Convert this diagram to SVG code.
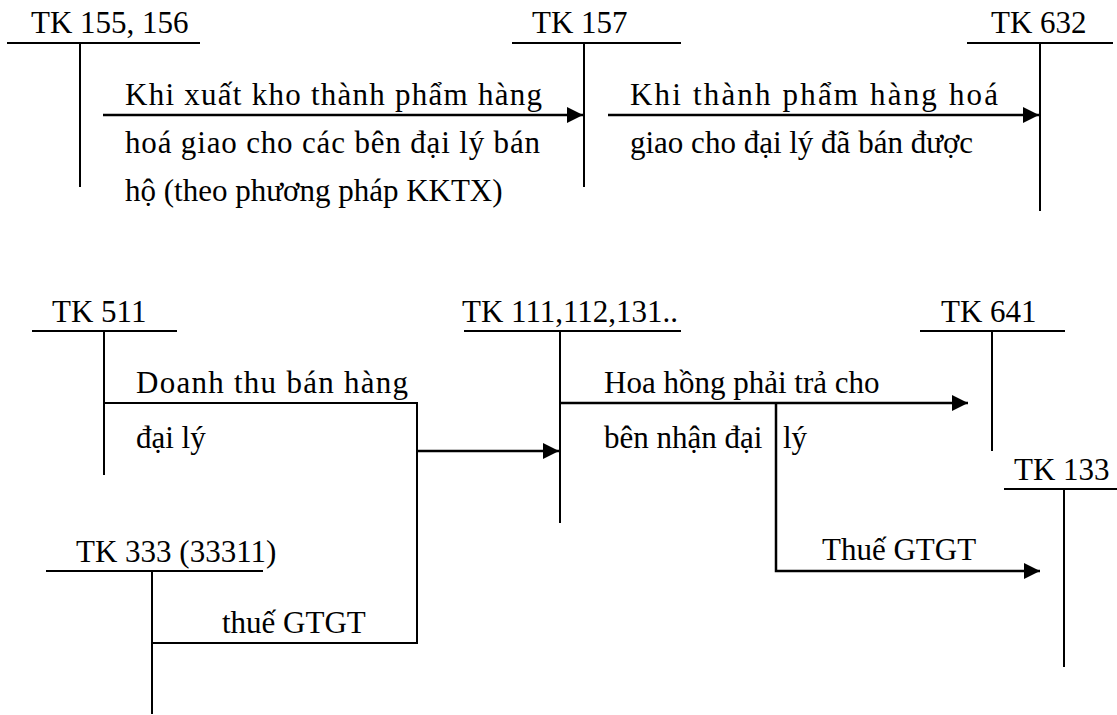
<svg xmlns="http://www.w3.org/2000/svg" width="1117" height="715" viewBox="0 0 1117 715">
<style>
text{font-family:'Liberation Serif','DejaVu Serif',serif;font-size:31px;fill:#000}
.t{stroke:#000;stroke-width:2;fill:none}
.c{stroke:#000;stroke-width:2.5;fill:none}
</style>
<defs>
<marker id="ah" markerUnits="userSpaceOnUse" markerWidth="16" markerHeight="18" refX="16" refY="8" orient="auto">
<path d="M0,0 L16,8 L0,16 Z" fill="#000"/>
</marker>
</defs>
<rect width="1117" height="715" fill="#fff"/>
<g id="tk155">
<line class="t" x1="7" y1="43" x2="200" y2="43"/>
<line class="t" x1="80" y1="43" x2="80" y2="187"/>
<text x="31" y="33">TK 155, 156</text>
</g>
<g id="tk157">
<line class="t" x1="512" y1="43" x2="681" y2="43"/>
<line class="t" x1="584" y1="43" x2="584" y2="187"/>
<text x="532" y="33">TK 157</text>
</g>
<g id="tk632">
<line class="t" x1="967" y1="43" x2="1113" y2="43"/>
<line class="t" x1="1040" y1="43" x2="1040" y2="211"/>
<text x="991" y="33">TK 632</text>
</g>
<g id="tk511">
<line class="t" x1="32" y1="331" x2="177" y2="331"/>
<line class="t" x1="104" y1="331" x2="104" y2="475"/>
<text x="52" y="322">TK 511</text>
</g>
<g id="tk333">
<line class="t" x1="46" y1="571" x2="263" y2="571"/>
<line class="t" x1="152" y1="571" x2="152" y2="714"/>
<text x="76" y="562">TK 333 (33311)</text>
</g>
<g id="tk111">
<line class="t" x1="464" y1="331" x2="681" y2="331"/>
<line class="t" x1="560" y1="331" x2="560" y2="523"/>
<text x="462" y="322">TK 111,112,131..</text>
</g>
<g id="tk641">
<line class="t" x1="920" y1="331" x2="1065" y2="331"/>
<line class="t" x1="992" y1="331" x2="992" y2="451"/>
<text x="941" y="322">TK 641</text>
</g>
<g id="tk133">
<line class="t" x1="1004" y1="489" x2="1117" y2="489"/>
<line class="t" x1="1064" y1="489" x2="1064" y2="667"/>
<text x="1014" y="480">TK 133</text>
</g>
<g id="connectors">
<line class="c" x1="103" y1="115" x2="583" y2="115" marker-end="url(#ah)"/>
<line class="c" x1="608" y1="115" x2="1039" y2="115" marker-end="url(#ah)"/>
<polyline class="t" points="104,403 417,403 417,643 152,643"/>
<line class="c" x1="417" y1="451" x2="559" y2="451" marker-end="url(#ah)"/>
<line class="c" x1="560" y1="403" x2="968" y2="403" marker-end="url(#ah)"/>
<polyline class="c" points="776,403 776,571 1040,571" marker-end="url(#ah)"/>
</g>
<g id="labels">
<text x="125" y="105" textLength="417" lengthAdjust="spacing">Khi xuất kho thành phẩm hàng</text>
<text x="125" y="153" textLength="415" lengthAdjust="spacing">hoá giao cho các bên đại lý bán</text>
<text x="125" y="201">hộ (theo phương pháp KKTX)</text>
<text x="630" y="105" textLength="368" lengthAdjust="spacing">Khi thành phẩm hàng hoá</text>
<text x="630" y="153">giao cho đại lý đã bán được</text>
<text x="136" y="393" textLength="272" lengthAdjust="spacing">Doanh thu bán hàng</text>
<text x="136" y="448">đại lý</text>
<text x="222" y="633">thuế GTGT</text>
<text x="604" y="393">Hoa hồng phải trả cho</text>
<text x="604" y="448">bên nhận đại <tspan x="783">lý</tspan></text>
<text x="822" y="560">Thuế GTGT</text>
</g>
</svg>
